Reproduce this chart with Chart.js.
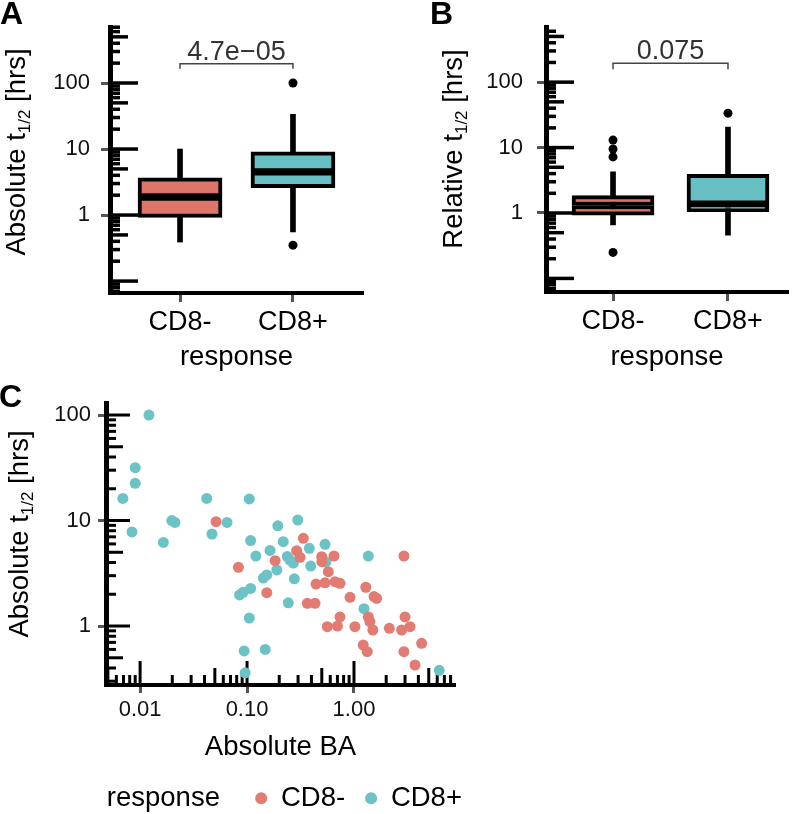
<!DOCTYPE html>
<html>
<head>
<meta charset="utf-8">
<script src="https://cdn.jsdelivr.net/npm/chart.js@4.4.1/dist/chart.umd.min.js"></script>
<style>
  html, body { margin: 0; padding: 0; background: #fff; overflow: hidden; }
  body { width: 798px; height: 814px; position: relative; }
  canvas { position: absolute; }
</style>
</head>
<body>
<canvas id="panelA" width="400" height="380" style="left:0;top:0"></canvas>
<canvas id="panelB" width="398" height="380" style="left:400px;top:0"></canvas>
<canvas id="panelC" width="543" height="442" style="left:0;top:380px"></canvas>
<script>
// categories
const groups = ["CD8-", "CD8+"];
const legendTitle = "response";

// panel A: absolute half-life, box stats per group
const absLow = [0.39, 0.555];
const absQ1 = [0.92, 2.6];
const absMedian = [1.88, 4.5];
const absQ3 = [3.67, 9.1];
const absHigh = [10, 33.6];
const absOutliers = [[], [100, 0.35]];
const absPValue = "4.7e\u221205";

// panel B: relative half-life, box stats per group
const relLow = [0.66, 0.46];
const relQ1 = [0.93, 1.05];
const relMedian = [1.3, 1.37];
const relQ3 = [1.84, 3.9];
const relHigh = [4.27, 20.5];
const relOutliers = [[13, 9.5, 7.2, 0.25], [33.6]];
const relPValue = "0.075";

const halfLifeTicks = [1, 10, 100];

// panel C: absolute BA vs absolute half-life
const negBA = [0.0513, 0.083, 0.183, 0.153, 0.336, 0.291, 0.313, 0.499, 0.5, 0.65,
  0.575, 0.442, 0.536, 0.665, 0.74, 0.366, 0.432, 0.918, 1.29, 1.54,
  1.63, 0.74, 0.563, 0.7, 1.02, 1.36, 1.41, 1.5, 2.14, 2.79,
  3.0, 3.34, 2.93, 1.22, 1.33, 2.93, 4.29, 3.72];
const negT = [9.76, 3.6, 4.16, 2.07, 6.78, 5.17, 4.48, 4.54, 4.07, 4.61,
  3.27, 2.5, 2.57, 2.63, 2.54, 1.64, 1.64, 1.87, 2.33, 1.9,
  1.83, 1.22, 0.985, 1.0, 0.985, 1.22, 1.1, 0.917, 0.95, 0.917,
  1.22, 0.985, 4.61, 0.66, 0.571, 0.571, 0.685, 0.427];
const posBA = [0.0121, 0.009, 0.009, 0.0069, 0.0084, 0.0165, 0.0198, 0.0212, 0.042, 0.047,
  0.065, 0.105, 0.108, 0.121, 0.164, 0.194, 0.218, 0.298, 0.382, 0.536,
  0.394, 0.238, 0.271, 0.19, 0.153, 0.142, 0.277, 0.108, 0.092, 0.085,
  0.243, 0.105, 0.094, 0.148, 0.096, 1.36, 1.24, 6.27, 0.252, 0.547];
const posT = [100, 31.7, 22.5, 16.2, 7.8, 6.2, 10.0, 9.6, 16.2, 7.45,
  9.6, 16.0, 6.45, 4.6, 5.2, 8.9, 6.3, 10.1, 5.45, 5.95,
  3.7, 4.55, 3.95, 3.4, 3.05, 2.85, 2.8, 2.27, 2.09, 1.97,
  1.66, 1.19, 0.58, 0.6, 0.36, 4.6, 1.46, 0.38, 4.22, 4.05];
const baTicks = [0.01, 0.1, 1];
const baTickLabels = ["0.01", "0.10", "1.00"];

const FONT = "'Liberation Sans', Arial, sans-serif";
const BOX_COLORS = ["#de756b", "#68bfc3"];
const POINT_COLORS = ["#e27b72", "#6cc3c6"];

Chart.defaults.font.family = FONT;
Chart.defaults.color = "#000";

// ggplot-style annotation_logticks drawn along the chosen axes
const logTicks = {
  id: "logTicks",
  beforeDatasetsDraw(chart, args, opts) {
    const ctx = chart.ctx;
    ctx.save();
    ctx.strokeStyle = "#000";
    ctx.lineWidth = opts.width;
    opts.axes.forEach((id) => {
      const s = chart.scales[id];
      const lo = Math.floor(Math.log10(s.min));
      const hi = Math.ceil(Math.log10(s.max));
      for (let e = lo; e <= hi; e++) {
        for (let m = 1; m <= 9; m++) {
          const v = m * Math.pow(10, e);
          if (v < s.min || v > s.max) continue;
          const len = m === 1 ? opts.long : m === 5 ? opts.mid : opts.short;
          const p = s.getPixelForValue(v);
          ctx.beginPath();
          if (s.isHorizontal()) {
            ctx.moveTo(p, s.top);
            ctx.lineTo(p, s.top - len);
          } else {
            ctx.moveTo(s.right, p);
            ctx.lineTo(s.right + len, p);
          }
          ctx.stroke();
        }
      }
    });
    ctx.restore();
  },
};

// panel letter, y title with subscript, p-value over bracket
const panelDecor = {
  id: "panelDecor",
  afterDraw(chart, args, o) {
    const ctx = chart.ctx;
    ctx.save();
    ctx.fillStyle = "#000";
    ctx.textBaseline = "alphabetic";
    ctx.textAlign = "left";
    ctx.font = `bold 32px ${FONT}`;
    ctx.fillText(o.letter, o.letterX, o.letterY);

    if (o.pValue) {
      ctx.font = `27px ${FONT}`;
      ctx.fillStyle = "#333";
      ctx.textAlign = "center";
      const px = chart.scales.x.getPixelForValue(1.5);
      const py = chart.scales.y.getPixelForValue(o.pAt) - 4;
      ctx.fillText(o.pValue, px, py);
      ctx.textAlign = "left";
      ctx.fillStyle = "#000";
    }

    const big = `27.5px ${FONT}`;
    const small = `17px ${FONT}`;
    ctx.translate(o.titleX, o.titleY);
    ctx.rotate(-Math.PI / 2);
    ctx.font = big;
    const w1 = ctx.measureText(o.title[0]).width;
    const w3 = ctx.measureText(o.title[2]).width;
    ctx.font = small;
    const w2 = ctx.measureText(o.title[1]).width;
    let x = -(w1 + w2 + w3) / 2;
    ctx.font = big;
    ctx.fillText(o.title[0], x, 0);
    x += w1;
    ctx.font = small;
    ctx.fillText(o.title[1], x, 5);
    x += w2;
    ctx.font = big;
    ctx.fillText(o.title[2], x, 0);
    ctx.restore();
  },
};

const makeBoxPanel = (id, st, look) => {
  const whiskers = groups.map((g, i) => ({ x: i + 1, y: [st.low[i], st.high[i]] }));
  const lower = groups.map((g, i) => ({ x: i + 1, y: [st.q1[i], st.median[i]] }));
  const upper = groups.map((g, i) => ({ x: i + 1, y: [st.median[i], st.q3[i]] }));
  const outliers = st.outliers.flatMap((vals, i) => vals.map((v) => ({ x: i + 1, y: v })));
  const bracket = [
    { x: 1, y: look.tipAt },
    { x: 1, y: look.bracketAt },
    { x: 2, y: look.bracketAt },
    { x: 2, y: look.tipAt },
  ];

  const boxStyle = {
    type: "bar",
    grouped: false,
    barThickness: look.boxWidth,
    backgroundColor: BOX_COLORS,
    borderColor: "#000",
    borderWidth: 4,
    borderSkipped: false,
    order: 2,
  };

  return new Chart(document.getElementById(id), {
    type: "bar",
    data: {
      datasets: [
        { type: "bar", data: whiskers, grouped: false, barThickness: 5, backgroundColor: "#000", order: 3 },
        { ...boxStyle, data: lower },
        { ...boxStyle, data: upper },
        { type: "scatter", data: outliers, pointRadius: 4.5, backgroundColor: "#000", borderWidth: 0, order: 1 },
        { type: "line", data: bracket, borderColor: "#444", borderWidth: 1.5, pointRadius: 0, order: 0 },
      ],
    },
    options: {
      responsive: false,
      animation: false,
      layout: { padding: { top: look.top, right: look.right, left: 0, bottom: 0 } },
      plugins: {
        legend: { display: false },
        tooltip: { enabled: false },
        logTicks: { axes: ["y"], long: 28, mid: 18, short: 10, width: 3.5 },
        panelDecor: {
          letter: look.letter,
          letterX: look.letterX,
          letterY: 24,
          title: look.title,
          titleX: look.titleX,
          titleY: look.titleY,
          pValue: look.pValue,
          pAt: look.bracketAt,
        },
      },
      scales: {
        x: {
          type: "linear",
          min: look.xMin,
          max: look.xMax,
          offset: false,
          afterBuildTicks: (s) => {
            s.ticks = groups.map((g, i) => ({ value: i + 1 }));
          },
          afterFit: (s) => {
            s.height = look.xHeight;
          },
          ticks: {
            callback: (v) => groups[v - 1],
            font: { size: 27 },
            color: "#000",
            padding: 4,
            maxRotation: 0,
            autoSkip: false,
          },
          grid: { drawOnChartArea: false, tickLength: 9, tickColor: "#555", tickWidth: 3, offset: false },
          border: { color: "#000", width: 4 },
          title: { display: true, text: legendTitle, font: { size: 27.5 }, color: "#000", padding: { top: 0, bottom: 6.5 } },
        },
        y: {
          type: "logarithmic",
          min: look.yMin,
          max: look.yMax,
          afterBuildTicks: (s) => {
            s.ticks = halfLifeTicks.map((v) => ({ value: v }));
          },
          afterFit: (s) => {
            s.width = look.yWidth;
          },
          ticks: { callback: (v) => String(v), font: { size: 22 }, color: "#111", padding: look.yPad },
          grid: { drawOnChartArea: false, tickLength: 9, tickColor: "#555", tickWidth: 3 },
          border: { color: "#000", width: 5 },
        },
      },
    },
    plugins: [logTicks, panelDecor],
  });
};

makeBoxPanel(
  "panelA",
  { low: absLow, q1: absQ1, median: absMedian, q3: absQ3, high: absHigh, outliers: absOutliers },
  {
    letter: "A", letterX: 0, title: ["Absolute t", "1/2", " [hrs]"], titleX: 25, titleY: 152,
    pValue: absPValue, bracketAt: 195, tipAt: 164,
    top: 27, right: 37, yWidth: 110, xHeight: 87, yPad: 11,
    xMin: 0.38, xMax: 2.62, yMin: 0.066, yMax: 705, boxWidth: 84,
  }
);

makeBoxPanel(
  "panelB",
  { low: relLow, q1: relQ1, median: relMedian, q3: relQ3, high: relHigh, outliers: relOutliers },
  {
    letter: "B", letterX: 30, title: ["Relative t", "1/2", " [hrs]"], titleX: 62, titleY: 149,
    pValue: relPValue, bracketAt: 195, tipAt: 158,
    top: 27, right: 10, yWidth: 146, xHeight: 88, yPad: 14,
    xMin: 0.417, xMax: 2.522, yMin: 0.062, yMax: 692, boxWidth: 82,
  }
);

new Chart(document.getElementById("panelC"), {
  type: "scatter",
  data: {
    datasets: [
      {
        label: groups[0],
        data: negBA.map((x, i) => ({ x, y: negT[i] })),
        backgroundColor: POINT_COLORS[0],
        pointRadius: 5.5,
        borderWidth: 0,
        order: 1,
      },
      {
        label: groups[1],
        data: posBA.map((x, i) => ({ x, y: posT[i] })),
        backgroundColor: POINT_COLORS[1],
        pointRadius: 5.5,
        borderWidth: 0,
        order: 2,
      },
    ],
  },
  options: {
    responsive: false,
    animation: false,
    layout: { padding: { top: 23, left: 0, right: 0, bottom: 0 } },
    plugins: {
      tooltip: { enabled: false },
      legend: {
        position: "bottom",
        labels: {
          usePointStyle: true,
          boxWidth: 12,
          boxHeight: 8.5,
          padding: 20,
          font: { size: 27.5 },
          color: "#000",
          generateLabels: (chart) => [
            {
              text: legendTitle + "  ",
              fillStyle: "rgba(0,0,0,0)",
              strokeStyle: "rgba(0,0,0,0)",
              lineWidth: 0,
              pointStyle: "circle",
              hidden: false,
              fontColor: "#000",
            },
            ...chart.data.datasets.map((d, i) => ({
              text: d.label,
              fillStyle: d.backgroundColor,
              strokeStyle: d.backgroundColor,
              lineWidth: 0,
              pointStyle: "circle",
              hidden: false,
              datasetIndex: i,
              fontColor: "#000",
            })),
          ],
        },
      },
      logTicks: { axes: ["x", "y"], long: 24, mid: 17, short: 10, width: 3 },
      panelDecor: {
        letter: "C",
        letterX: -1,
        letterY: 27,
        title: ["Absolute t", "1/2", " [hrs]"],
        titleX: 28,
        titleY: 154,
      },
    },
    scales: {
      x: {
        type: "logarithmic",
        min: 0.0048,
        max: 8.8,
        afterBuildTicks: (s) => {
          s.ticks = baTicks.map((v) => ({ value: v }));
        },
        afterFit: (s) => {
          s.height = 79.5;
        },
        ticks: { callback: (v, i) => baTickLabels[i], font: { size: 22 }, color: "#111", padding: 4, maxRotation: 0, autoSkip: false },
        grid: { drawOnChartArea: false, tickLength: 8, tickColor: "#555", tickWidth: 3 },
        border: { color: "#000", width: 4 },
        title: { display: true, text: "Absolute BA", font: { size: 27.5 }, color: "#000", padding: { top: 0, bottom: 1 } },
      },
      y: {
        type: "logarithmic",
        min: 0.276,
        max: 130,
        afterBuildTicks: (s) => {
          s.ticks = halfLifeTicks.map((v) => ({ value: v }));
        },
        afterFit: (s) => {
          s.width = 106;
        },
        ticks: { callback: (v) => String(v), font: { size: 22 }, color: "#111", padding: 7 },
        grid: { drawOnChartArea: false, tickLength: 8, tickColor: "#555", tickWidth: 3 },
        border: { color: "#000", width: 5 },
      },
      // empty right-hand axis that only reserves the right margin
      pad: {
        type: "linear",
        position: "right",
        ticks: { display: false },
        grid: { display: false },
        border: { display: false },
        afterFit: (s) => {
          s.width = 88;
        },
      },
    },
  },
  plugins: [logTicks, panelDecor],
});
</script>
</body>
</html>
